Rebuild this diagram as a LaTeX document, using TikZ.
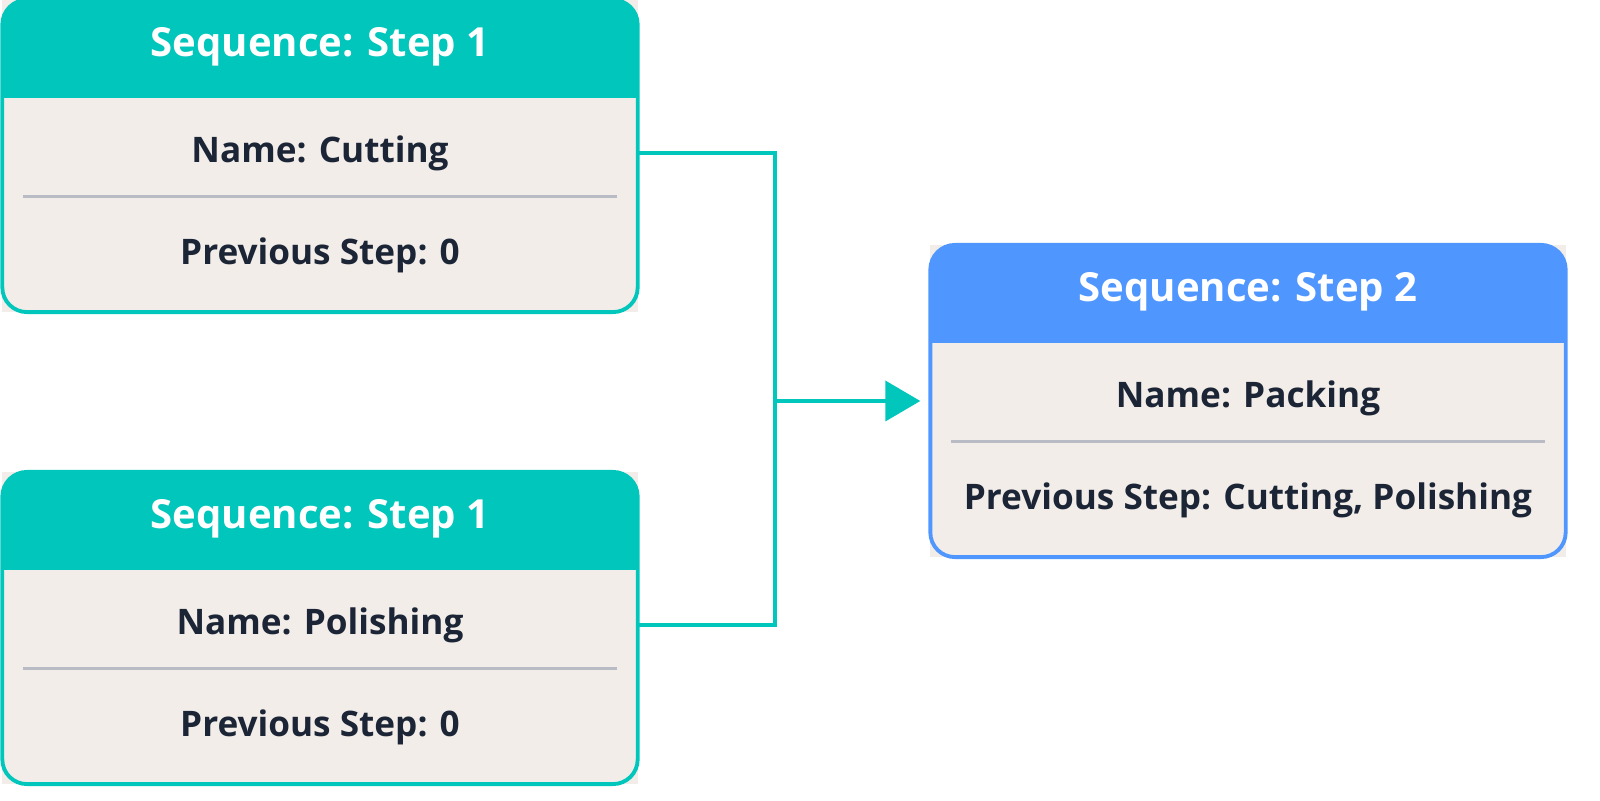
\documentclass[tikz,border=0pt]{standalone}
\usepackage{fontspec}
\setmainfont{Open Sans}
\usetikzlibrary{calc,arrows.meta}

\definecolor{seqteal}{HTML}{00C6BB}
\definecolor{seqblue}{HTML}{4F96FF}
\definecolor{cardbody}{HTML}{F2EDE9}
\definecolor{cardtext}{HTML}{1B2536}
\definecolor{rulegrey}{HTML}{B9BCC4}

\tikzset{
  cardbox/.style={minimum width=6.35cm, minimum height=3.12cm, inner sep=0pt, outer sep=0pt, fill=cardbody},
  headtext/.style={text=white, font=\bfseries\fontsize{11.4}{13}\selectfont},
  rowtext/.style={text=cardtext, font=\bfseries\fontsize{10}{12}\selectfont},
  link/.style={seqteal, line width=1.1pt},
}

\begin{document}
\begin{tikzpicture}[x=0.01cm, y=-0.01cm]
		\useasboundingbox (0,0) rectangle (1600,801);
		
		% cards: name / centre / colour / step / name / previous
		\foreach \nm/\cx/\cy/\col/\st/\na/\pv in {cut/320/156/seqteal/1/Cutting/0, pol/320/628/seqteal/1/Polishing/0, pack/1248/401/seqblue/2/Packing/{Cutting, Polishing}} {
			\node[cardbox] (\nm) at (\cx,\cy) {};
			\begin{scope}
				\clip[rounded corners=7pt] (\nm.south west) rectangle (\nm.north east);
				\fill[\col] (\nm.north west) rectangle ($(\nm.north east)+(0,98)$);
			\end{scope}
			\draw[\col, line width=1.1pt, rounded corners=7pt] (\nm.south west) rectangle (\nm.north east);
			
			% texts
			\node[headtext] (\nm-head) at ($(\nm.north)+(0,47)$) {Sequence: Step \st};
			\node[rowtext] (\nm-name) at ($(\nm.north)+(0,153)$) {Name: \na};
			\node[rowtext] (\nm-prev) at ($(\nm.north)+(0,255)$) {Previous Step: \pv};
			
			% divider
			\draw[rulegrey, line width=0.8pt] ($(\nm.north west)+(21,197)$) -- ($(\nm.north east)+(-21,197)$);
		}
		
		% join of the two first steps
		\coordinate (join) at (775,401);
		\draw[link] (cut-name -| cut.east) -| (join) |- (pol-name -| pol.east);
		\draw[link, -{Triangle[length=0.35cm, width=0.4cm]}, shorten >=0.1cm] (join) -- (join -| pack.west);
		
\end{tikzpicture}
\end{document}
